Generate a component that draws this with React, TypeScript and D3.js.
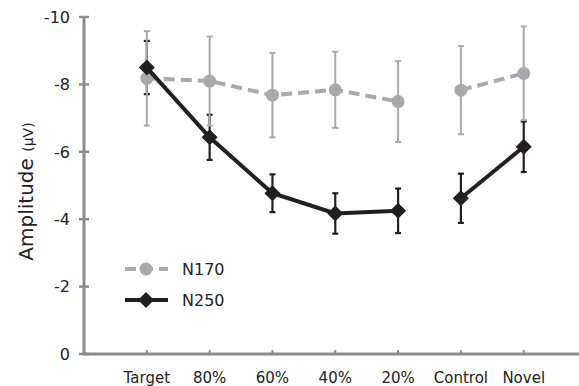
import React from 'react';
import * as d3 from 'd3';

const categories = ['Target', '80%', '60%', '40%', '20%', 'Control', 'Novel'];
// segment index: the lines break between 20% and Control
const segments = [0, 0, 0, 0, 0, 1, 1];

const n170Mean = [-8.18, -8.1, -7.68, -7.84, -7.49, -7.83, -8.33];
const n170Err = [1.4, 1.32, 1.25, 1.13, 1.2, 1.31, 1.39];
const n250Mean = [-8.5, -6.43, -4.77, -4.17, -4.25, -4.62, -6.15];
const n250Err = [0.79, 0.67, 0.56, 0.6, 0.66, 0.73, 0.75];

const yTicks = [0, -2, -4, -6, -8, -10];

const W = 579;
const H = 386;
const GRAY = '#a7a9ac';
const BLACK = '#231f20';
const AXIS = '#8c8c8c';
const FONT = '"DejaVu Sans", Verdana, sans-serif';

const x = d3.scaleLinear().domain([-1, 6.88]).range([84, 579]);
const y = d3.scaleLinear().domain([0, -10]).range([354, 17]);

function pathsBySegment(values: number[]) {
  const groups = d3.groups(
    values.map((v, i) => ({ v, i, s: segments[i] })),
    d => d.s
  );
  return groups.map(([, pts]) =>
    d3
      .line<{ v: number; i: number }>()
      .x(d => x(d.i))
      .y(d => y(d.v))(pts) as string
  );
}

// square diamond, rotated 45deg
const diamond = 'M0,-8L8,0L0,8L-8,0Z';

const ErrorBars: React.FC<{ mean: number[]; err: number[]; color: string; w: number }> = ({ mean, err, color, w }) => (
  <g stroke={color} strokeWidth={w}>
    {mean.map((m, i) => (
      <g key={i}>
        <line x1={x(i)} x2={x(i)} y1={y(m - err[i])} y2={y(m + err[i])} />
        <line x1={x(i) - 3} x2={x(i) + 3} y1={y(m - err[i])} y2={y(m - err[i])} />
        <line x1={x(i) - 3} x2={x(i) + 3} y1={y(m + err[i])} y2={y(m + err[i])} />
      </g>
    ))}
  </g>
);

export default function App() {
  const n170Paths = pathsBySegment(n170Mean);
  const n250Paths = pathsBySegment(n250Mean);
  const axisY = y(0);

  return (
    <svg width={W} height={H} style={{ position: 'absolute', left: 0, top: 0, background: '#fff' }} fontFamily={FONT}>
      {/* axes */}
      <g stroke={AXIS} strokeWidth={3}>
        <line x1={x(-1)} x2={x(-1)} y1={y(-10)} y2={axisY} />
        <line x1={x(-1) - 1.5} x2={W} y1={axisY} y2={axisY} />
        {yTicks.map(t => (
          <line key={t} x1={x(-1) - 5} x2={x(-1) + 5} y1={y(t)} y2={y(t)} strokeWidth={2.5} />
        ))}
        {categories.map((c, i) => (
          <line key={c} x1={x(i)} x2={x(i)} y1={axisY} y2={axisY - 4} strokeWidth={2} />
        ))}
      </g>
      {yTicks.map(t => (
        <text key={t} x={x(-1) - 14} y={y(t)} dy="0.36em" textAnchor="end" fontSize={16} fill="#222">
          {t === 0 ? '0' : `-${Math.abs(t)}`}
        </text>
      ))}
      {categories.map((c, i) => (
        <text key={c} x={x(i)} y={383} textAnchor="middle" fontSize={15} fill="#222">
          {c}
        </text>
      ))}
      <text transform={`translate(33,${(y(-10) + axisY) / 2 + 6}) rotate(-90)`} textAnchor="middle" fill="#222">
        <tspan fontSize={20}>Amplitude </tspan>
        <tspan fontSize={14}>(μV)</tspan>
      </text>

      {/* error bars: black behind gray */}
      <ErrorBars mean={n250Mean} err={n250Err} color={BLACK} w={2.2} />
      <ErrorBars mean={n170Mean} err={n170Err} color={GRAY} w={2} />

      {/* N170 */}
      {n170Paths.map((d, k) => (
        <path key={k} d={d} fill="none" stroke={GRAY} strokeWidth={4} strokeDasharray="11,6" />
      ))}
      {n170Mean.map((m, i) => (
        <circle key={i} cx={x(i)} cy={y(m)} r={6.5} fill={GRAY} />
      ))}

      {/* N250 */}
      {n250Paths.map((d, k) => (
        <path key={k} d={d} fill="none" stroke={BLACK} strokeWidth={4} />
      ))}
      {n250Mean.map((m, i) => (
        <path key={i} d={diamond} transform={`translate(${x(i)},${y(m)})`} fill={BLACK} />
      ))}

      {/* legend */}
      <g>
        <line x1={125} x2={168} y1={269} y2={269} stroke={GRAY} strokeWidth={4} strokeDasharray="11,6" />
        <circle cx={146} cy={269} r={6.5} fill={GRAY} />
        <text x={182} y={269} dy="0.36em" fontSize={16} fill="#222">N170</text>
        <line x1={125} x2={168} y1={300} y2={300} stroke={BLACK} strokeWidth={4} />
        <path d={diamond} transform="translate(146,300)" fill={BLACK} />
        <text x={182} y={300} dy="0.36em" fontSize={16} fill="#222">N250</text>
      </g>
    </svg>
  );
}
